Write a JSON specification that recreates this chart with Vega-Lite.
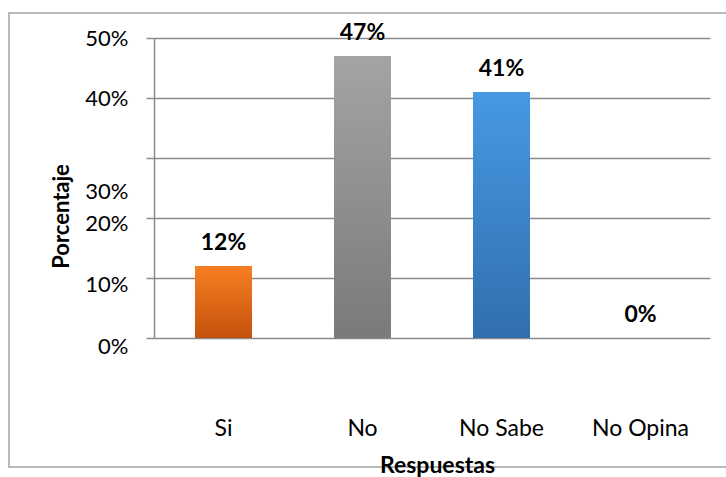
{
  "$schema": "https://vega.github.io/schema/vega-lite/v6.json",
  "width": 720,
  "height": 454,
  "autosize": {"type": "none"},
  "padding": {"left": 9, "top": 13, "right": 0, "bottom": 10},
  "background": "white",
  "config": {"view": {"stroke": "#a3a3a3", "strokeWidth": 1.5}, "font": "Lato"},
  "data": {
    "values": [
      {"respuesta": "Si", "porcentaje": 0.12},
      {"respuesta": "No", "porcentaje": 0.47},
      {"respuesta": "No Sabe", "porcentaje": 0.41},
      {"respuesta": "No Opina", "porcentaje": 0.0}
    ]
  },
  "encoding": {
    "x": {
      "field": "respuesta",
      "type": "nominal",
      "sort": null,
      "scale": {"paddingInner": 0.59, "paddingOuter": 0.295, "range": [145, 701]},
      "axis": {
        "title": "Respuestas",
        "offset": -129,
        "labelAngle": 0,
        "ticks": false,
        "domain": false,
        "labelPadding": 79,
        "labelFontSize": 23,
        "labelColor": "#000000",
        "titleFontSize": 23,
        "titleFontWeight": "bold",
        "titleColor": "#000000",
        "titleX": 428,
        "titleY": 127,
        "titleBaseline": "middle",
        "titleAlign": "center"
      }
    },
    "y": {
      "field": "porcentaje",
      "type": "quantitative",
      "scale": {"domain": [0, 0.5], "nice": false, "range": [325, 25]},
      "axis": {
        "offset": -145,
        "values": [0, 0.1, 0.2, 0.3, 0.4, 0.5],
        "format": ".0%",
        "grid": true,
        "gridColor": "#8a8a8a",
        "gridWidth": 1.5,
        "tickSize": 8,
        "tickColor": "#8a8a8a",
        "tickWidth": 1.5,
        "domainColor": "#8a8a8a",
        "domainWidth": 1.5,
        "labelPadding": 18,
        "labelFontSize": 22,
        "labelColor": "#000000",
        "labelOffset": {
          "condition": [
            {"test": "datum.value == 0.3", "value": 33},
            {"test": "datum.value == 0.2", "value": 5},
            {"test": "datum.value == 0.1", "value": 6},
            {"test": "datum.value == 0", "value": 8}
          ],
          "value": 0
        },
        "title": "Porcentaje",
        "titleFontSize": 22,
        "titleFontWeight": "bold",
        "titleColor": "#000000",
        "titleAngle": -90,
        "titleX": -93,
        "titleY": 203,
        "titleBaseline": "middle",
        "titleAlign": "center"
      }
    }
  },
  "layer": [
    {
      "mark": {"type": "bar"},
      "encoding": {
        "color": {
          "condition": [
            {
              "test": "datum.respuesta == 'Si'",
              "value": {"gradient": "linear", "x1": 0, "y1": 0, "x2": 0, "y2": 1, "stops": [{"offset": 0, "color": "#f77f22"}, {"offset": 1, "color": "#c4510c"}]}
            },
            {
              "test": "datum.respuesta == 'No'",
              "value": {"gradient": "linear", "x1": 0, "y1": 0, "x2": 0, "y2": 1, "stops": [{"offset": 0, "color": "#a4a4a4"}, {"offset": 1, "color": "#7a7a7a"}]}
            }
          ],
          "value": {"gradient": "linear", "x1": 0, "y1": 0, "x2": 0, "y2": 1, "stops": [{"offset": 0, "color": "#4799e3"}, {"offset": 1, "color": "#306fad"}]}
        }
      }
    },
    {
      "mark": {"type": "text", "fontWeight": "bold", "fontSize": 23, "baseline": "alphabetic", "dy": -16, "color": "#000000"},
      "encoding": {
        "text": {"field": "porcentaje", "type": "quantitative", "format": ".0%"}
      }
    }
  ]
}
